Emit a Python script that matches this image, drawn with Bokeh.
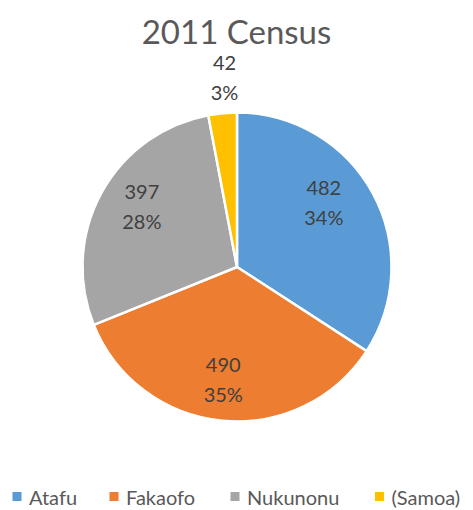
import math
from bokeh.plotting import figure
from bokeh.models import Range1d, ColumnDataSource
from bokeh.core.properties import value
from bokeh.embed import file_html
from bokeh.resources import INLINE

# ---- data ----
title_text = "2011 Census"
categories = ["Atafu", "Fakaofo", "Nukunonu", "(Samoa)"]
population = [482, 490, 397, 42]
percent_labels = ["34%", "35%", "28%", "3%"]
colors = ["#5B9BD5", "#ED7D31", "#A5A5A5", "#FFC000"]

# ---- layout (page pixel coordinates, y measured from top of page) ----
W, H = 473, 510
cx, cy, R = 236.5, 266.5, 154.5
label_r = [108, 113, 113, 190]          # label distance from centre
label_da = [-8, 1.5, 4, 1.6]            # label angle tweak (deg)
line_gap = 14.5                          # half distance between the two label lines
legend_x = [16.5, 113.5, 234.5, 379]
legend_y = 496
FONT = "Lato"
TXT = "#595959"
LBL = "#404040"

p = figure(width=W, height=H, output_backend="svg", toolbar_location=None,
           x_range=Range1d(0, W), y_range=Range1d(0, H),
           min_border=0, outline_line_color=None)
p.axis.visible = False
p.grid.visible = False
p.background_fill_color = "white"
p.border_fill_color = "white"

def Y(y):
    return H - y

total = sum(population)
starts, ends, lx, ly = [], [], [], []
acc = 0
for i, v in enumerate(population):
    a0 = math.pi / 2 - 2 * math.pi * acc / total
    acc += v
    a1 = math.pi / 2 - 2 * math.pi * acc / total
    starts.append(a0)
    ends.append(a1)
    mid = (a0 + a1) / 2 + math.radians(-label_da[i])
    lx.append(cx + label_r[i] * math.cos(mid))
    ly.append(Y(cy) + label_r[i] * math.sin(mid))

src = ColumnDataSource(dict(start=starts, end=ends, color=colors,
                            lx=lx, ly1=[y + line_gap for y in ly], ly2=[y - line_gap for y in ly],
                            val=[str(v) for v in population], pct=percent_labels))
p.wedge(x=cx, y=Y(cy), radius=R, start_angle="start", end_angle="end",
        direction="clock", fill_color="color", line_color="white", line_width=2.5,
        source=src)

for col in ("val", "pct"):
    p.text(x="lx", y="ly1" if col == "val" else "ly2", text=col, source=src,
           text_font=value(FONT), text_font_size="20px", text_color=LBL,
           text_align="center", text_baseline="middle")

p.text(x=[236], y=[Y(30)], text=[title_text], text_font=value(FONT),
       text_font_size="33px", text_color=TXT, text_align="center",
       text_baseline="middle")

leg = ColumnDataSource(dict(x=legend_x, tx=[x + 12 for x in legend_x],
                            y=[Y(legend_y)] * 4, c=colors, t=categories))
p.scatter(x="x", y="y", marker="square", size=9, fill_color="c", line_color=None, source=leg)
p.text(x="tx", y="y", text="t", source=leg, text_font=value(FONT),
       text_font_size="20px", text_color=TXT, text_align="left",
       text_baseline="middle")

open("out.html", "w").write(file_html(p, INLINE))
